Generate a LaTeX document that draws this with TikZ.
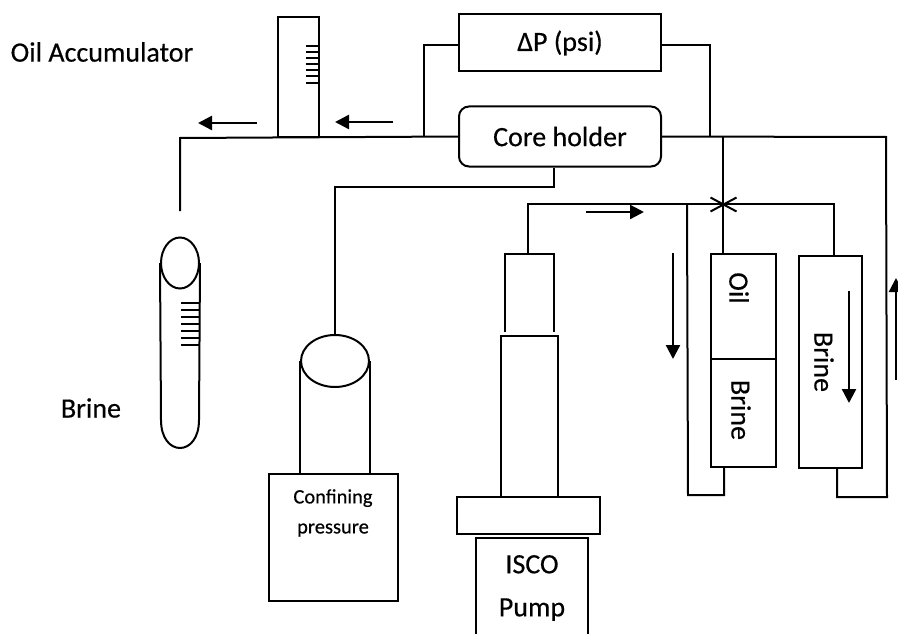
\documentclass[tikz,border=0pt]{standalone}
\usepackage{fontspec}
\setmainfont[FakeBold=0.4]{Carlito}
\usetikzlibrary{shapes.geometric, arrows.meta, positioning}

\begin{document}
\begin{tikzpicture}[
    x=1pt, y=-1pt,
    box/.style={rectangle, draw=black, line width=2pt, inner sep=0pt, align=center, font=\fontsize{28}{28}\selectfont},
    pipe/.style={line width=2pt},
    tick/.style={line width=1.7pt},
    flow/.style={-{Triangle[length=14pt, width=14pt]}, line width=2.4pt},
    label/.style={font=\fontsize{28}{28}\selectfont, inner sep=0pt},
    sidetext/.style={font=\fontsize{28}{28}\selectfont, inner sep=0pt, rotate=-90}
]
\useasboundingbox (0,0) rectangle (898,634);

% instruments
\node[box, minimum width=202pt, minimum height=57pt] (dp) at (560,43) {ΔP (psi)};
\node[box, rounded corners=10pt, minimum width=202pt, minimum height=60pt] (core) at (560,136.5) {Core holder};
\node[box, minimum width=41pt, minimum height=120pt] (accum) at (298.5,77) {};
\node[box, minimum width=129pt, minimum height=127pt] (confbox) at (333.5,537.5) {};
\node[align=center, font=\fontsize{20.5}{30}\selectfont, inner sep=0pt] (conftext) at (333,513) {Confining\\pressure};
\node[ellipse, draw=black, line width=2pt, minimum width=68pt, minimum height=52pt, inner sep=0pt] (confcap) at (335,361) {};
\node[ellipse, draw=black, line width=2pt, minimum width=38pt, minimum height=51pt, inner sep=0pt] (tubecap) at (180,263) {};

% pump
\node[box, minimum width=57pt, minimum height=161pt] (pumpmid) at (529.5,416.5) {};
\node[box, minimum width=143pt, minimum height=37pt] (pumpbase) at (528.5,515.5) {};
\node[box, minimum width=112pt, minimum height=100pt, font=\fontsize{28}{43}\selectfont] (pumpbox) at (532,588) {ISCO\\Pump};
\coordinate (pumpleft) at (505,254);
\coordinate (pumpright) at (554,254);

% cylinders
\node[box, minimum width=65pt, minimum height=105pt] (oil) at (743.5,306.5) {};
\node[box, minimum width=65pt, minimum height=108pt] (brinea) at (743.5,413) {};
\node[box, minimum width=63pt, minimum height=212pt] (brineb) at (830.5,362) {};
\node[sidetext] at (739,288) {Oil};
\node[sidetext] at (741,410) {Brine};
\node[sidetext] at (824,362) {Brine};

% labels
\node[label] (oillabel) at (102,52) {Oil Accumulator};
\node[label] (brinelabel) at (91,408) {Brine};

% junctions
\coordinate (outcorner) at (180,138);
\coordinate (outend) at (180,211);
\coordinate (dpleft) at (424,137);
\coordinate (dpright) at (710,137);
\coordinate (oiljoin) at (723,137);
\coordinate (valve) at (723.5,204.5);
\coordinate (pumpcorner) at (528,204);
\coordinate (brinecorner) at (834,204);
\coordinate (loopjoin) at (687,204);
\coordinate (loopa) at (688,495);
\coordinate (loopb) at (724,495);
\coordinate (loopc) at (837,497);
\coordinate (loopd) at (887,497);
\coordinate (rightcorner) at (886,137);
\coordinate (confcorner) at (335,187);
\coordinate (corefoot) at (554,187);

% piping
\draw[pipe] (core.west) -- (outcorner) -- (outend);
\draw[pipe] ([yshift=-2pt]dp.west) -| (dpleft);
\draw[pipe] ([yshift=-2pt]dp.east) -| (dpright);
\draw[pipe] (core.east) -- (rightcorner) -- (loopd) -- (loopc) -- (loopc |- brineb.south);
\draw[pipe] (oiljoin) -- (oiljoin |- oil.north);
\draw[pipe] (pumpleft -| pumpcorner) -- (pumpcorner) -- (brinecorner) -- (brinecorner |- brineb.north);
\draw[pipe] (loopjoin) -- (loopa) -- (loopb) -- (loopb |- brinea.south);
\draw[pipe] (corefoot |- core.south) -- (corefoot) -- (confcorner) -- (confcap.north);

% cylinder walls
\draw[pipe] (pumpleft |- 0,332) -- (pumpleft) -- (pumpright) -- (pumpright |- 0,332);
\draw[pipe] (confcap.west) -- (confcap.west |- confbox.north);
\draw[pipe] (confcap.east) -- (confcap.east |- confbox.north);
\draw[pipe] (tubecap.west) -- (161,420) .. controls (161,438) and (170,448) .. (180,448) .. controls (190,448) and (199,438) .. (199,420) -- (tubecap.east);

% valve
\draw[pipe] ([shift={(-13pt,-7pt)}]valve) -- ([shift={(13pt,7pt)}]valve);
\draw[pipe] ([shift={(-13pt,7pt)}]valve) -- ([shift={(13pt,-7pt)}]valve);

% graduations
\foreach \ypos in {46,52,58,64,70,76,83} {
    \draw[tick] (306,\ypos) -- (319,\ypos);
}
\foreach \ypos in {303,310,317,324,331,338,345} {
    \draw[tick] (181,\ypos) -- (199,\ypos);
}

% flow directions
\draw[flow] (257,123) -- (198,123);
\draw[flow] (393,122) -- (335,122);
\draw[flow] (586,212) -- (644,212);
\draw[flow] (673,253) -- (673,359);
\draw[flow] (849,291) -- (849,403);
\draw[flow] (896,380) -- (896,278);

\end{tikzpicture}
\end{document}
